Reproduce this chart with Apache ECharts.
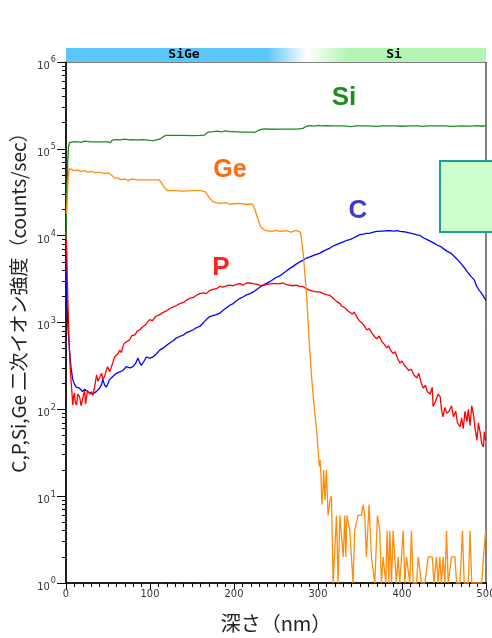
<!DOCTYPE html>
<html>
<head>
<meta charset="utf-8">
<script src="https://cdn.jsdelivr.net/npm/echarts@6/dist/echarts.min.js"></script>
<style>
  html, body { margin: 0; padding: 0; background: #fff; }
  #chart { width: 492px; height: 638px; }
</style>
</head>
<body>
<div id="chart"></div>
<script>
// depth (nm) / intensity (counts/sec)
const siData = [
  [0, 9e3], [1, 3e4], [2, 7e4], [3, 1.05e5], [4.2, 1.18e5], [6, 1.2e5], [10, 1.21e5], [14, 1.2e5],
  [18, 1.19e5], [22, 1.23e5], [24, 1.2e5], [30, 1.2e5], [40, 1.2e5], [50, 1.2e5], [53, 1.18e5],
  [55, 1.26e5], [60, 1.28e5], [65, 1.27e5], [70, 1.29e5], [75, 1.27e5], [80, 1.28e5], [85, 1.26e5],
  [90, 1.28e5], [95, 1.27e5], [100, 1.25e5], [104, 1.24e5], [108, 1.27e5], [112, 1.3e5], [116, 1.38e5],
  [119, 1.43e5], [130, 1.43e5], [140, 1.43e5], [150, 1.42e5], [160, 1.43e5], [165, 1.44e5], [169, 1.56e5],
  [175, 1.58e5], [180, 1.6e5], [185, 1.57e5], [190, 1.61e5], [195, 1.58e5], [200, 1.58e5], [205, 1.57e5],
  [210, 1.56e5], [220, 1.56e5], [222, 1.5e5], [225, 1.55e5], [229, 1.63e5], [233, 1.68e5], [238, 1.7e5],
  [245, 1.68e5], [255, 1.69e5], [265, 1.69e5], [275, 1.69e5], [282, 1.72e5], [287, 1.83e5], [290, 1.85e5],
  [295, 1.83e5], [300, 1.86e5], [305, 1.84e5], [310, 1.85e5], [320, 1.84e5], [330, 1.84e5], [340, 1.8e5],
  [345, 1.84e5], [360, 1.84e5], [370, 1.81e5], [375, 1.84e5], [390, 1.84e5], [400, 1.82e5], [410, 1.84e5],
  [420, 1.84e5], [425, 1.81e5], [430, 1.84e5], [450, 1.84e5], [460, 1.81e5], [470, 1.84e5], [480, 1.83e5],
  [490, 1.85e5], [495, 1.82e5], [500, 1.85e5]
]

const geData = [
  [0, 1.8e4], [1, 2.2e4], [2.5, 4.5e4], [3.8, 5.9e4], [6, 5.8e4], [10, 5.6e4], [14, 5.7e4], [18, 5.5e4],
  [22, 5.6e4], [26, 5.4e4], [30, 5.5e4], [35, 5.3e4], [40, 5.4e4], [45, 5.2e4], [50, 5.3e4], [54, 5.0e4],
  [58, 4.6e4], [62, 4.6e4], [66, 4.4e4], [70, 4.5e4], [74, 4.3e4], [78, 4.5e4], [85, 4.4e4], [95, 4.4e4],
  [105, 4.4e4], [111, 4.4e4], [114, 4.0e4], [118, 3.5e4], [121, 3.3e4], [130, 3.3e4], [140, 3.25e4],
  [150, 3.3e4], [160, 3.3e4], [166, 3.2e4], [170, 2.8e4], [174, 2.5e4], [178, 2.4e4], [185, 2.35e4],
  [190, 2.4e4], [195, 2.3e4], [205, 2.35e4], [215, 2.3e4], [222, 2.3e4], [225, 2.0e4], [228, 1.6e4],
  [232, 1.25e4], [237, 1.15e4], [245, 1.12e4], [250, 1.15e4], [255, 1.12e4], [262, 1.14e4], [268, 1.1e4],
  [274, 1.15e4], [279, 1.1e4], [280.5, 9e3], [282.4, 6.3e3], [284.5, 3.5e3], [286.5, 2e3], [288.5, 900],
  [290.4, 450], [292.5, 230], [294.3, 140], [296.5, 85], [298.4, 58], [300, 35], [301.5, 22], [302.5, 26],
  [303.5, 18], [304.7, 8], [306, 12], [306.7, 20], [308.3, 9], [310, 20], [310.7, 13], [312, 6], [313, 5.8],
  [314, 8.7], [316, 10], [318, 1], [322, 6], [324, 1], [326, 6], [328, 6], [330, 2], [332, 6], [333, 2],
  [334.6, 6], [337.8, 4], [339.8, 2], [341.7, 1], [343.7, 4], [345.7, 4], [347.7, 6], [351.7, 6], [353.7, 8],
  [355.7, 6], [357.6, 2], [360.8, 8], [363.6, 2], [365.6, 2], [367.6, 1], [370.8, 6], [373.5, 4], [375.5, 1],
  [377.5, 2], [379.5, 2], [380.7, 1], [382.3, 4], [384.3, 1], [385.5, 4], [387.5, 1], [389.4, 4], [391.4, 4],
  [393.4, 1], [395.4, 2], [397.4, 1], [401.4, 4], [403.4, 1], [405.3, 2], [407.3, 2], [409.3, 1], [411.3, 4],
  [413.3, 1], [417.3, 1], [419.3, 2], [421.2, 2], [423.2, 1], [427.2, 1], [431.2, 2], [436, 2], [438, 1],
  [441, 2], [443, 1], [445, 2], [447, 1], [449, 2], [451, 1], [453, 4], [455, 1], [457, 1], [459, 2],
  [463, 2], [465, 1], [469, 1], [472, 4], [474, 1], [479, 1], [481, 4], [483, 1], [491, 1], [495, 1],
  [497, 2], [499.5, 4]
]

const pData = [
  [0, 1.1e4], [1, 6e3], [1.8, 2.6e3], [3, 1e3], [4.2, 450], [5.4, 260], [6.6, 180], [8.1, 112], [9, 140],
  [10.1, 155], [11, 120], [12.5, 112], [14, 150], [16.1, 140], [18, 110], [19.7, 112], [21, 150], [22.1, 165],
  [23.3, 115], [25.6, 165], [28, 150], [30.4, 160], [32, 145], [34, 180], [36.4, 250], [38, 210], [40, 200],
  [42.3, 260], [44, 220], [45.9, 240], [47.5, 270], [49.5, 310], [52, 270], [54.3, 280], [56, 350],
  [57.8, 400], [60, 380], [62, 440], [63.8, 480], [66, 450], [68, 540], [69.8, 580], [72, 560], [75.7, 630],
  [78, 700], [82, 720], [85, 800], [87.6, 820], [90, 870], [95, 950], [99.6, 1080], [103, 1050], [107, 1180],
  [111.5, 1230], [115, 1300], [119, 1350], [123.4, 1450], [127, 1500], [131, 1560], [135.4, 1650],
  [140, 1700], [143, 1800], [147.3, 1900], [152, 1950], [155, 2050], [159.2, 2150], [164, 2200], [167, 2150],
  [171.2, 2350], [175, 2400], [179, 2450], [183, 2600], [187, 2550], [191, 2650], [195, 2700], [199, 2650],
  [203, 2750], [207, 2800], [211, 2700], [215, 2850], [219, 2850], [223, 2800], [228, 2750], [232, 2650],
  [236, 2700], [240, 2750], [245, 2800], [250, 2800], [254.6, 2800], [258, 2850], [262, 2750], [266, 2700],
  [270, 2650], [274, 2700], [278, 2600], [282, 2600], [286, 2450], [290.4, 2350], [294, 2300], [298, 2250],
  [302.3, 2250], [306, 2150], [310, 2100], [314.3, 2050], [318, 1900], [322, 1750], [326.2, 1650],
  [328, 1550], [332, 1480], [336, 1350], [338, 1400], [341, 1250], [343, 1320], [346, 1170], [349, 1050],
  [352, 1000], [355, 920], [358, 820], [361, 850], [364, 760], [367, 690], [370, 650], [373, 700], [376, 600],
  [379, 560], [381.9, 510], [384, 540], [387, 470], [389.4, 440], [392, 460], [395, 380], [397.7, 340],
  [400, 360], [403, 320], [405.7, 300], [408, 280], [411, 290], [414, 250], [417.7, 230], [420, 260],
  [423, 200], [425.5, 175], [428, 190], [430, 160], [433.5, 150], [436, 180], [437, 108], [440, 125],
  [443, 150], [445.4, 140], [447, 100], [448.7, 82], [451, 105], [453.4, 90], [456, 95], [459, 110],
  [461.3, 82], [464, 95], [466, 70], [469.3, 63], [471, 80], [473, 60], [475, 95], [477.3, 72], [479, 100],
  [481, 65], [483, 110], [485.2, 86], [487, 60], [489.2, 44], [491, 70], [493.2, 53], [495, 40], [497, 37],
  [498, 55], [499.5, 44]
]

const cData = [
  [0, 9e3], [0.5, 4e3], [1, 2e3], [2, 1e3], [3, 700], [4.2, 480], [6, 300], [8.1, 220], [10, 195],
  [12.2, 180], [16.1, 175], [19.7, 160], [22, 170], [24.1, 165], [28, 155], [32, 150], [34, 158], [36, 160],
  [40, 175], [42, 190], [43.9, 220], [46, 190], [47.9, 180], [50, 200], [51.9, 220], [56, 240], [59.9, 260],
  [64, 270], [67.7, 280], [71.8, 310], [76, 300], [79.7, 310], [83, 340], [85.6, 390], [87.5, 350],
  [89.7, 320], [93, 360], [95.6, 400], [100, 390], [103.5, 400], [108, 440], [111.5, 480], [116, 510],
  [119, 540], [123.4, 580], [128, 620], [131, 660], [135.4, 690], [140, 720], [143, 760], [147.3, 790],
  [152, 830], [155, 870], [159.2, 900], [163, 980], [167, 1080], [171.2, 1170], [175, 1200], [179, 1230],
  [183, 1280], [187, 1380], [191, 1480], [195, 1580], [199, 1650], [203, 1780], [207, 1900], [211, 1980],
  [215, 2080], [219, 2150], [223, 2250], [227, 2400], [230.8, 2550], [235, 2700], [238, 2800], [242.7, 2950],
  [246, 3100], [250, 3300], [254.6, 3450], [258, 3650], [262, 3900], [266.5, 4200], [270, 4400], [274, 4700],
  [278.5, 5000], [282, 5200], [286, 5500], [290.4, 5700], [294, 5900], [298, 6100], [302.3, 6300], [306, 6600],
  [310, 6900], [314.3, 7200], [318, 7600], [322, 7900], [326.2, 8200], [330, 8500], [334, 8800], [338, 9000],
  [342, 9400], [346, 9800], [350, 1.03e4], [354, 1.04e4], [358, 1.06e4], [362, 1.07e4], [366, 1.1e4],
  [370, 1.12e4], [374, 1.13e4], [378, 1.13e4], [382, 1.14e4], [386, 1.14e4], [390, 1.13e4], [394, 1.14e4],
  [398, 1.12e4], [402, 1.11e4], [406, 1.09e4], [410, 1.07e4], [414, 1.05e4], [418, 1.02e4], [422, 1e4],
  [426, 9400], [430, 9000], [434, 8600], [438, 8200], [442, 7800], [446, 7500], [450, 7000], [454, 6600],
  [458, 6300], [462, 5800], [466, 5300], [470, 4800], [474, 4300], [478, 3800], [482, 3400], [486, 3100],
  [489, 2600], [492, 2350], [495, 2150], [497, 2000], [500, 1800]
]

const xTicks = [0, 100, 200, 300, 400, 500]
const yDecades = [0, 1, 2, 3, 4, 5, 6]
const layerNames = ['SiGe', 'Si']

const majorY = yDecades.map(k => Math.pow(10, k))
const minorY = []
yDecades.slice(0, -1).forEach(k => {
  for (let m = 2; m <= 9; m++) minorY.push(m * Math.pow(10, k))
})

const tickFont = '"DejaVu Sans Condensed", "Liberation Sans", sans-serif'

const chart = echarts.init(document.getElementById('chart'))
chart.setOption({
  animation: false,
  grid: {
    left: 66, right: 6, top: 62, bottom: 55,
    outerBoundsMode: 'none',
    show: true, borderColor: '#000', borderWidth: 1
  },
  xAxis: {
    type: 'value',
    min: 0, max: 500, interval: 100,
    name: '深さ（nm）',
    nameLocation: 'middle',
    nameGap: 30,
    nameTextStyle: { fontSize: 20, color: '#222', fontFamily: 'Noto Sans CJK JP' },
    axisLine: { lineStyle: { color: '#000', width: 1.5 } },
    axisTick: { length: 7, lineStyle: { color: '#000' }, customValues: xTicks },
    minorTick: { show: true, splitNumber: 10, length: 4, lineStyle: { color: '#000' } },
    axisLabel: {
      customValues: xTicks, margin: 6,
      fontSize: 11, color: '#333', fontFamily: tickFont
    },
    splitLine: { show: false }
  },
  yAxis: [{
    type: 'log',
    min: 1, max: 1e6,
    axisLine: { lineStyle: { color: '#000', width: 1.5 } },
    axisTick: { length: 9, lineStyle: { color: '#000' }, customValues: majorY },
    axisLabel: {
      customValues: majorY, margin: 10,
      formatter: v => '{b|10}{s|' + Math.round(Math.log10(v)) + '}',
      rich: {
        b: { fontSize: 11, color: '#333', fontFamily: tickFont, padding: [8, 0, 0, 0] },
        s: { fontSize: 9, color: '#333', fontFamily: tickFont, padding: [0, 0, 4, 1] }
      }
    },
    splitLine: { show: false }
  }, {
    type: 'log',
    min: 1, max: 1e6,
    position: 'left',
    axisLine: { show: false },
    axisTick: { length: 4, lineStyle: { color: '#000' }, customValues: minorY },
    axisLabel: { show: false },
    splitLine: { show: false }
  }],
  graphic: [
    {
      type: 'rect', z: 10,
      shape: { x: 66, y: 48, width: 420, height: 14 },
      style: {
        fill: new echarts.graphic.LinearGradient(0, 0, 1, 0, [
          { offset: 0, color: '#5bc6f8' },
          { offset: 0.478, color: '#5bc6f8' },
          { offset: 0.574, color: '#ffffff' },
          { offset: 0.67, color: '#b2f5b2' },
          { offset: 1, color: '#b2f5b2' }
        ])
      }
    },
    {
      type: 'text', z: 11, x: 184, y: 55,
      style: { text: layerNames[0], font: 'bold 13px "DejaVu Sans Mono"', fill: '#000', align: 'center', verticalAlign: 'middle' }
    },
    {
      type: 'text', z: 11, x: 394, y: 55,
      style: { text: layerNames[1], font: 'bold 13px "DejaVu Sans Mono"', fill: '#000', align: 'center', verticalAlign: 'middle' }
    },
    {
      type: 'text', z: 10, x: 19, y: 298, rotation: Math.PI / 2,
      style: {
        text: 'C,P,Si,Ge 二次イオン強度（counts/sec）',
        font: '19px "Noto Sans CJK JP"', fill: '#222', align: 'center', verticalAlign: 'middle'
      }
    },
    {
      type: 'text', z: 10, x: 344, y: 98,
      style: { text: 'Si', font: 'bold 26px "Liberation Sans"', fill: '#1e8c1e', align: 'center', verticalAlign: 'middle' }
    },
    {
      type: 'text', z: 10, x: 230, y: 170,
      style: { text: 'Ge', font: 'bold 25px "Liberation Sans"', fill: '#ff6c10', align: 'center', verticalAlign: 'middle' }
    },
    {
      type: 'text', z: 10, x: 358, y: 211,
      style: { text: 'C', font: 'bold 26px "Liberation Sans"', fill: '#3a3ad6', align: 'center', verticalAlign: 'middle' }
    },
    {
      type: 'text', z: 10, x: 221, y: 268,
      style: { text: 'P', font: 'bold 26px "Liberation Sans"', fill: '#ff2020', align: 'center', verticalAlign: 'middle' }
    },
    {
      type: 'rect', z: 12,
      shape: { x: 440, y: 161, width: 60, height: 71 },
      style: { fill: '#ccffcc', stroke: '#1aa096', lineWidth: 2 }
    }
  ],
  series: [
    { name: 'C', type: 'line', symbol: 'none', data: cData, lineStyle: { color: '#0000ff', width: 1.3 } },
    { name: 'P', type: 'line', symbol: 'none', data: pData, lineStyle: { color: '#ff0000', width: 1.3 } },
    { name: 'Si', type: 'line', symbol: 'none', data: siData, lineStyle: { color: '#1e8c1e', width: 1.3 } },
    { name: 'Ge', type: 'line', symbol: 'none', data: geData, lineStyle: { color: '#ff8c0a', width: 1.3 } }
  ]
})
</script>
</body>
</html>
